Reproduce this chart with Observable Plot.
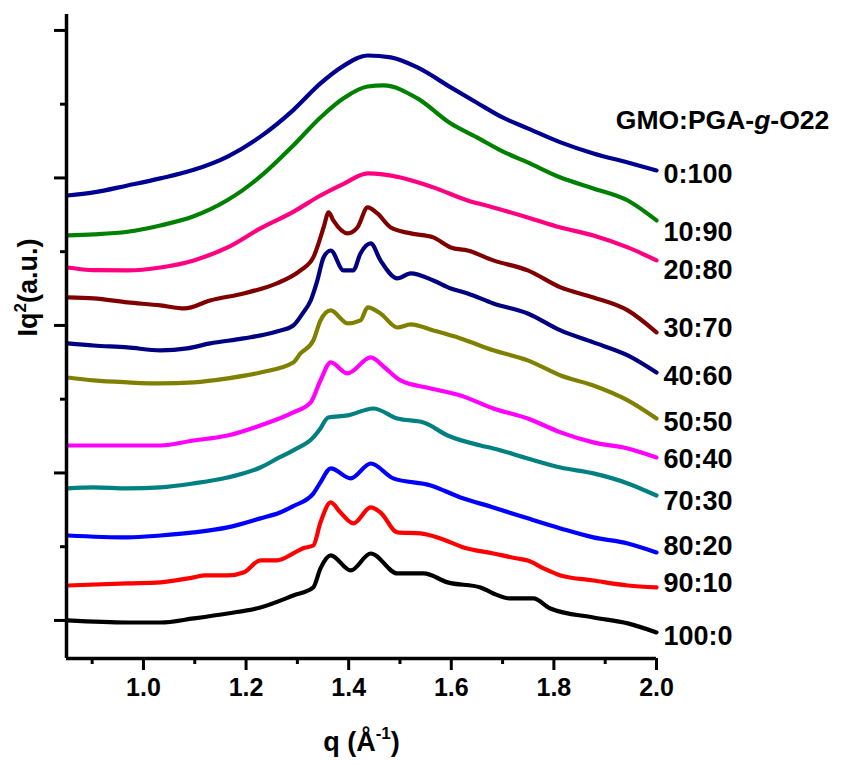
<!DOCTYPE html>
<html><head><meta charset="utf-8">
<script src="https://cdn.jsdelivr.net/npm/d3@7"></script>
<script src="https://cdn.jsdelivr.net/npm/@observablehq/plot@0.6"></script>
<style>body{margin:0;background:#fff}</style>
</head><body><div id="chart"></div>
<script>
const seriesNames = ["0:100","10:90","20:80","30:70","40:60","50:50","60:40","70:30","80:20","90:10","100:0"];
const seriesColors = ["#000090","#008000","#ff0080","#800000","#000080","#808000","#ff00ff","#008080","#0000ff","#ff0000","#000000"];

const s0_100 = [[0.852,28.81],[0.903,29.02],[0.969,29.49],[1.033,29.97],[1.098,30.55],[1.164,31.45],[1.228,32.8],[1.292,34.6],[1.345,36.41],[1.39,37.6],[1.437,38.3],[1.482,38.17],[1.534,37.49],[1.599,36.14],[1.65,35.1],[1.7,34.1],[1.749,33.36],[1.813,32.41],[1.877,31.66],[1.944,31.05],[2.0,30.51]];
const s10_90 = [[0.852,26.10],[0.903,26.17],[0.969,26.35],[1.033,26.78],[1.098,27.4],[1.164,28.5],[1.228,30.1],[1.292,32.2],[1.345,34.10],[1.39,35.4],[1.437,36.2],[1.468,36.27],[1.534,35.39],[1.599,33.69],[1.65,32.75],[1.70,31.8],[1.749,31.05],[1.813,30.03],[1.877,29.29],[1.944,28.47],[2.0,27.12]];
const s20_80 = [[0.852,23.93],[0.903,23.75],[0.969,23.73],[1.033,23.93],[1.098,24.41],[1.164,25.29],[1.228,26.58],[1.292,27.7],[1.345,28.81],[1.39,29.6],[1.437,30.31],[1.501,30.03],[1.565,29.36],[1.632,28.47],[1.682,28.0],[1.749,27.32],[1.813,26.64],[1.877,26.10],[1.944,25.29],[2.0,24.41]];
const s30_70 = [[0.852,21.90],[0.903,21.83],[0.969,21.56],[1.033,21.36],[1.08,21.15],[1.13,21.69],[1.195,22.17],[1.26,22.85],[1.306,23.73],[1.331,24.61],[1.345,25.97],[1.351,26.64],[1.361,27.66],[1.37,27.12],[1.398,26.24],[1.417,26.64],[1.437,28.0],[1.456,27.59],[1.482,26.64],[1.521,26.24],[1.565,25.97],[1.599,25.29],[1.632,25.08],[1.682,24.41],[1.749,23.73],[1.813,22.58],[1.877,21.90],[1.944,21.02],[2.0,19.53]];
const s40_60 = [[0.852,18.78],[0.903,18.64],[0.969,18.51],[1.033,18.31],[1.085,18.44],[1.13,18.78],[1.195,19.12],[1.26,19.59],[1.292,20.0],[1.31,20.8],[1.326,21.69],[1.339,23.05],[1.351,24.61],[1.365,25.08],[1.39,23.73],[1.409,23.73],[1.423,24.88],[1.443,25.56],[1.462,24.41],[1.495,23.19],[1.521,23.53],[1.565,23.05],[1.599,22.51],[1.632,22.17],[1.682,21.49],[1.749,20.81],[1.813,19.66],[1.877,18.85],[1.944,17.97],[2.0,16.81]];
const s50_50 = [[0.852,16.47],[0.903,16.27],[0.969,16.14],[1.033,16.07],[1.098,16.14],[1.164,16.41],[1.228,16.81],[1.292,17.49],[1.306,18.10],[1.331,18.98],[1.345,20.34],[1.365,21.02],[1.398,20.14],[1.423,20.34],[1.437,21.22],[1.462,20.81],[1.495,19.86],[1.521,20.07],[1.565,19.66],[1.618,19.12],[1.682,18.31],[1.749,17.63],[1.813,16.61],[1.877,15.93],[1.944,14.92],[2.0,13.69]];
const s60_40 = [[0.852,11.86],[0.969,11.86],[1.033,11.86],[1.098,12.20],[1.164,12.54],[1.228,13.22],[1.292,14.10],[1.326,14.78],[1.345,16.27],[1.365,17.49],[1.398,16.75],[1.443,17.83],[1.47,17.15],[1.501,16.27],[1.56,15.73],[1.618,15.25],[1.682,14.37],[1.749,13.69],[1.813,12.75],[1.877,12.07],[1.944,11.66],[2.0,11.05]];
const s70_30 = [[0.852,8.95],[0.903,9.02],[0.969,8.95],[1.033,9.02],[1.098,9.29],[1.164,9.69],[1.228,10.37],[1.265,11.05],[1.292,11.53],[1.331,12.41],[1.345,13.02],[1.36,13.76],[1.398,13.90],[1.448,14.37],[1.495,13.69],[1.546,13.42],[1.593,12.54],[1.657,11.86],[1.682,11.66],[1.749,10.98],[1.813,10.37],[1.877,9.97],[1.944,9.29],[2.0,8.47]];
const s80_20 = [[0.852,5.76],[0.969,5.63],[1.033,5.76],[1.098,5.97],[1.164,6.31],[1.228,6.92],[1.265,7.3],[1.292,7.75],[1.331,8.6],[1.345,9.36],[1.365,10.31],[1.404,9.63],[1.443,10.64],[1.487,9.63],[1.56,9.15],[1.618,8.34],[1.682,7.66],[1.749,6.92],[1.813,6.24],[1.877,5.63],[1.944,5.22],[2.0,4.61]];
const s90_10 = [[0.852,2.37],[0.969,2.51],[1.033,2.58],[1.098,2.92],[1.12,3.05],[1.164,3.05],[1.195,3.25],[1.228,4.07],[1.26,4.07],[1.292,4.54],[1.31,4.88],[1.331,5.08],[1.345,6.64],[1.365,8.0],[1.384,7.32],[1.409,6.58],[1.443,7.66],[1.462,7.32],[1.495,5.97],[1.54,5.90],[1.579,5.56],[1.624,4.95],[1.682,4.54],[1.729,4.20],[1.749,4.07],[1.78,3.53],[1.813,3.05],[1.877,2.71],[1.944,2.37],[2.0,2.24]];
const s100_0 = [[0.852,0],[0.969,-0.14],[1.033,-0.14],[1.098,0.14],[1.164,0.47],[1.228,0.88],[1.292,1.69],[1.331,2.24],[1.345,3.53],[1.365,4.41],[1.404,3.39],[1.443,4.54],[1.495,3.19],[1.546,3.19],[1.593,2.58],[1.657,2.24],[1.682,1.83],[1.715,1.49],[1.76,1.49],[1.793,0.81],[1.877,0.20],[1.944,-0.20],[2.0,-0.81]];
const seriesData = [s0_100,s10_90,s20_80,s30_70,s40_60,s50_50,s60_40,s70_30,s80_20,s90_10,s100_0];
// vertical nudges of the end labels (px), as placed in the original figure
const labelNudge = [4,12,10,-4,4,4,2,6,-6,-4,4];

const xMajorTicks = [1.0,1.2,1.4,1.6,1.8,2.0];
const xMinorTicks = [0.9,1.1,1.3,1.5,1.7,1.9];
const yMajorTicks = [0,10,20,30,40];
const yMinorTicks = [5,15,25,35];
const xDomain = [0.85, 2.0];
const yDomain = [-2.58, 41.08];
const legendTitle = "GMO:PGA-g-O22";
const xLabel = "q (Å-1)";
const yLabel = "Iq2(a.u.)";

const rows = seriesData.flatMap((arr, i) => arr.map(([q, I]) => ({q, I, series: seriesNames[i]})));
const ends = seriesData.map((arr, i) => ({q: arr[arr.length-1][0], I: arr[arr.length-1][1], series: seriesNames[i], nudge: labelNudge[i]}));

const FONT = "'Liberation Sans', Arial, Helvetica, sans-serif";

const chart = Plot.plot({
  width: 845, height: 765,
  marginLeft: 66, marginRight: 189, marginTop: 14, marginBottom: 107,
  style: {fontFamily: FONT, fontWeight: "bold", background: "#fff", color: "#000"},
  x: {domain: xDomain},
  y: {domain: yDomain},
  color: {domain: seriesNames, range: seriesColors},
  marks: [
    Plot.line(rows, {x: "q", y: "I", z: "series", stroke: "series", strokeWidth: 4.2, strokeLinejoin: "round", strokeLinecap: "round", curve: "monotone-x"}),
    Plot.ruleX([xDomain[0]], {stroke: "#000", strokeWidth: 3.5}),
    Plot.ruleY([yDomain[0]], {stroke: "#000", strokeWidth: 3.5}),
    Plot.axisX({ticks: xMajorTicks, tickSize: 12, tickPadding: 8, strokeWidth: 3, tickFormat: d => d.toFixed(1), fontSize: 25, fontWeight: "bold", label: null}),
    Plot.axisX({ticks: xMinorTicks, tickSize: 6, strokeWidth: 3, tickFormat: () => "", label: null}),
    Plot.axisY({ticks: yMajorTicks, tickSize: 12, strokeWidth: 3, tickFormat: () => "", label: null}),
    Plot.axisY({ticks: yMinorTicks, tickSize: 6, strokeWidth: 3, tickFormat: () => "", label: null}),
    ...ends.map(e => Plot.text([e], {x: "q", y: "I", text: "series", textAnchor: "start", dx: 7, dy: e.nudge, fontSize: 27, fontWeight: "bold", fill: "#000"})),
    Plot.text([legendTitle], {frameAnchor: "top-right", text: d => d, textAnchor: "middle", dx: 66, dy: 96, fontSize: 26.5, fontWeight: "bold", fill: "#000"}),
    Plot.text([xLabel], {frameAnchor: "bottom", text: d => d, dy: 92, fontSize: 27, fontWeight: "bold", fill: "#000"}),
    Plot.text([yLabel], {frameAnchor: "left", text: d => d, rotate: -90, dx: -38, fontSize: 27, fontWeight: "bold", fill: "#000"})
  ]
});
document.getElementById("chart").appendChild(chart);

// rich text formatting (italic g, superscripts)
const svg = d3.select(chart);
svg.selectAll("text").each(function() {
  const t = d3.select(this);
  const s = this.textContent;
  if (s === legendTitle) {
    t.text(null);
    t.append("tspan").text("GMO:PGA-");
    t.append("tspan").attr("font-style", "italic").text("g");
    t.append("tspan").text("-O22");
  } else if (s === xLabel) {
    t.text(null);
    t.append("tspan").text("q (Å");
    t.append("tspan").attr("font-size", "17").attr("dy", "-0.65em").text("-1");
    t.append("tspan").attr("dy", "0.42em").text(")");
  } else if (s === yLabel) {
    t.text(null);
    t.append("tspan").text("Iq");
    t.append("tspan").attr("font-size", "17").attr("dy", "-0.65em").text("2");
    t.append("tspan").attr("dy", "0.42em").text("(a.u.)");
  }
});
</script>
</body></html>
